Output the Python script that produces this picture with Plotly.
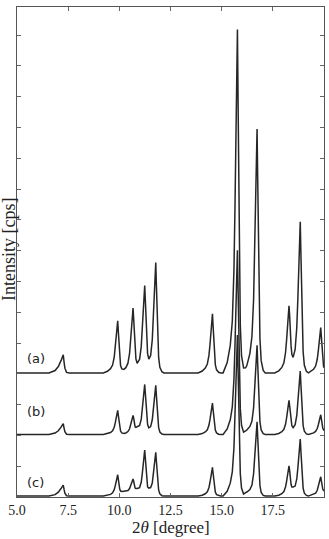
import plotly.graph_objects as go

# 2-theta sampling (degree), shared by all three patterns
two_theta = [
    5.0, 6.56, 6.86, 7.02, 7.15, 7.22, 7.26, 7.30, 7.34, 7.42, 7.56,
    9.22, 9.42, 9.57, 9.67, 9.75, 9.80, 9.84, 9.88, 9.92, 9.95, 9.98, 10.02, 10.06, 10.12, 10.22,
    10.32, 10.42, 10.50, 10.55, 10.59, 10.63, 10.67, 10.70, 10.73, 10.77, 10.81, 10.87,
    10.99, 11.07, 11.12, 11.16, 11.20, 11.24, 11.27, 11.30, 11.34, 11.38, 11.44,
    11.53, 11.61, 11.66, 11.70, 11.74, 11.78, 11.81, 11.84, 11.88, 11.92, 11.98, 12.08, 12.18,
    13.85, 14.05, 14.20, 14.30, 14.38, 14.43, 14.47, 14.51, 14.55, 14.58, 14.61, 14.65, 14.69, 14.75, 14.85, 14.95,
    15.07, 15.27, 15.42, 15.52, 15.60, 15.65, 15.69, 15.73, 15.77, 15.80, 15.83, 15.87, 15.91, 15.97, 16.07, 16.17,
    16.23, 16.38, 16.48, 16.56, 16.61, 16.65, 16.69, 16.73, 16.76, 16.79, 16.83, 16.87, 16.93, 17.03, 17.13,
    17.59, 17.79, 17.94, 18.04, 18.12, 18.17, 18.21, 18.25, 18.29, 18.32, 18.35, 18.39, 18.43, 18.49,
    18.59, 18.67, 18.72, 18.76, 18.80, 18.84, 18.87, 18.90, 18.94, 18.98, 19.04, 19.14, 19.24,
    19.34, 19.49, 19.59, 19.67, 19.72, 19.76, 19.80, 19.84, 19.87, 19.90, 19.94, 19.98, 20.0,
]

# intensities (cps)
intensity_a = [
    30, 30, 105, 235, 427, 570, 615, 381, 183, 46, 30,
    30, 82, 167, 284, 537, 843, 1213, 1519, 1720, 1382, 960, 537, 267, 160, 144,
    199, 345, 661, 1041, 1502, 1879, 2133, 1785, 1272, 774, 482, 342,
    472, 882, 1392, 2016, 2526, 2867, 2406, 1720, 1060, 654, 479,
    596, 1106, 1749, 2539, 3186, 3615, 2897, 2003, 1106, 531, 209, 66, 30,
    30, 89, 183, 319, 605, 950, 1372, 1717, 1948, 1564, 1086, 605, 300, 128, 50, 30,
    30, 365, 921, 1704, 3374, 5380, 7833, 9839, 11178, 8948, 6163, 3374, 1590, 589, 189, 196,
    267, 664, 1220, 2406, 3833, 5575, 7001, 7950, 6368, 4385, 2406, 1138, 427, 108, 30,
    30, 95, 206, 358, 683, 1077, 1554, 1948, 2208, 1905, 1385, 914, 631, 534,
    791, 1502, 2386, 3465, 4349, 4938, 3956, 2731, 1502, 716, 277, 79, 30,
    76, 147, 251, 472, 735, 1060, 1327, 1502, 1207, 839, 472, 235, 193,
]

intensity_b = [
    30, 30, 76, 150, 267, 349, 378, 238, 121, 40, 30,
    30, 53, 92, 147, 264, 404, 576, 716, 810, 654, 459, 264, 141, 82, 66,
    79, 124, 215, 326, 462, 573, 648, 566, 420, 280, 258, 274,
    323, 518, 810, 1168, 1460, 1655, 1379, 982, 599, 358, 248,
    287, 508, 794, 1145, 1431, 1623, 1304, 908, 508, 254, 111, 46, 30,
    30, 59, 111, 183, 336, 518, 742, 924, 1047, 843, 589, 336, 173, 82, 40, 30,
    30, 209, 508, 927, 1824, 2900, 4216, 5292, 6010, 4814, 3319, 1824, 869, 329, 105, 144,
    176, 290, 466, 898, 1418, 2055, 2575, 2923, 2344, 1623, 898, 436, 176, 59, 30,
    30, 62, 118, 196, 362, 560, 804, 1002, 1135, 969, 703, 459, 310, 251,
    349, 648, 1018, 1470, 1840, 2087, 1675, 1161, 648, 319, 134, 50, 30,
    50, 82, 128, 222, 339, 479, 592, 670, 544, 381, 241, 176, 154,
]

intensity_c = [
    30, 30, 76, 157, 274, 358, 388, 245, 124, 40, 30,
    30, 50, 85, 134, 238, 362, 514, 638, 722, 583, 410, 258, 193, 176, 186,
    193, 209, 274, 355, 453, 518, 583, 511, 381, 290, 274, 274,
    306, 479, 748, 1077, 1346, 1525, 1268, 904, 550, 329, 290,
    306, 456, 713, 1025, 1281, 1450, 1168, 810, 456, 228, 102, 43, 30,
    30, 59, 105, 170, 310, 479, 683, 852, 963, 778, 544, 310, 160, 76, 40, 30,
    30, 186, 449, 817, 1600, 2542, 3693, 4635, 5263, 4216, 2910, 1600, 761, 290, 95, 144,
    160, 241, 391, 755, 1190, 1720, 2156, 2445, 1961, 1359, 755, 368, 150, 53, 30,
    30, 59, 108, 176, 326, 501, 719, 898, 1015, 865, 631, 414, 323, 323,
    355, 586, 921, 1327, 1662, 1883, 1512, 1051, 586, 290, 124, 50, 30,
    50, 79, 124, 219, 332, 469, 583, 657, 531, 375, 258, 209, 193,
]

series_labels = ["(a)", "(b)", "(c)"]
series_offsets = [4000, 2000, 0]
label_y = [4513, 2760, 455]

x_ticks = [5.0, 7.5, 10.0, 12.5, 15.0, 17.5, 20.0]
x_tick_text = ["5.0", "7.5", "10.0", "12.5", "15.0", "17.5", "20.0"]

fig = go.Figure()
for lab, vals, off in zip(series_labels, [intensity_a, intensity_b, intensity_c], series_offsets):
    fig.add_trace(go.Scatter(
        x=two_theta, y=[v + off for v in vals], mode="lines", name=lab,
        line=dict(color="#262626", width=1.5), showlegend=False, hoverinfo="skip",
    ))

for lab, ly in zip(series_labels, label_y):
    fig.add_annotation(x=5.39, y=ly, xref="x", yref="y", text=lab, showarrow=False,
                       xanchor="left", yanchor="middle",
                       font=dict(family="DejaVu Sans", size=13, color="#222"))

fig.add_annotation(x=-0.028, y=0.505, xref="paper", yref="paper", text="Intensity [cps]",
                   textangle=-90, showarrow=False, xanchor="center", yanchor="middle",
                   font=dict(family="Liberation Serif", size=18, color="#222"))
fig.add_annotation(x=0.5, y=-0.062, xref="paper", yref="paper", text="2<i>θ</i> [degree]",
                   showarrow=False, xanchor="center", yanchor="middle",
                   font=dict(family="Liberation Serif", size=17, color="#222"))

axis_common = dict(showline=True, linecolor="#555", linewidth=1, mirror="ticks",
                   ticks="inside", ticklen=4, tickcolor="#666", tickwidth=1,
                   showgrid=False, zeroline=False)

fig.update_xaxes(range=[5.0, 20.0], tickvals=x_ticks, ticktext=x_tick_text,
                 tickfont=dict(family="Liberation Serif", size=14, color="#222"),
                 **axis_common)
fig.update_yaxes(range=[0, 15909], dtick=1000, tick0=0, showticklabels=False, **axis_common)

fig.update_layout(width=329, height=539, margin=dict(l=17, r=5, t=7, b=42),
                  plot_bgcolor="white", paper_bgcolor="white")

fig.write_html("out.html")
